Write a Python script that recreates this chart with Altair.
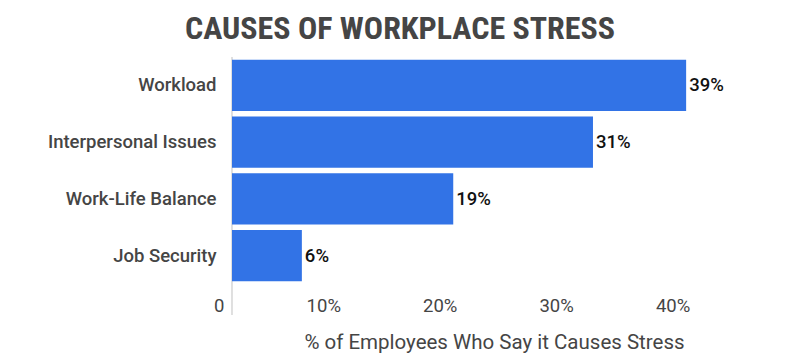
import altair as alt
import pandas as pd

categories = ["Workload", "Interpersonal Issues", "Work-Life Balance", "Job Security"]
values = [39, 31, 19, 6]
labels = ["39%", "31%", "19%", "6%"]
tick_values = [0, 10, 20, 30, 40]

df = pd.DataFrame({"cause": categories, "pct": values, "label": labels})

x_scale = alt.Scale(domain=[0, 45], nice=False)
y_enc = alt.Y("cause:N", sort=categories, scale=alt.Scale(paddingInner=0.1, paddingOuter=0.05),
              axis=alt.Axis(title=None, domain=False, ticks=False, labelPadding=16,
                            labelFontSize=18.5, labelColor="#454545", labelFont="Roboto",
                            labelFontWeight=500, labelLimit=300))

bars = alt.Chart(df).mark_bar(color="#3273E6").encode(
    x=alt.X("pct:Q", scale=x_scale,
            axis=alt.Axis(values=tick_values, grid=False, domain=False, ticks=False,
                          labelExpr="datum.value == 0 ? '0' : datum.value + '%'",
                          labelAlign="right", labelOffset=-8, labelPadding=12,
                          labelFontSize=18.5, labelColor="#454545", labelFont="Roboto",
                          title="% of Employees Who Say it Causes Stress",
                          titleFontSize=20.5, titleFontWeight="normal", titleColor="#454545",
                          titleFont="Roboto", titlePadding=18)),
    y=y_enc,
)

text = alt.Chart(df).mark_text(align="left", dx=3, fontSize=18.5, font="Roboto",
                               fontWeight=500, color="#111111").encode(
    x="pct:Q", y=alt.Y("cause:N", sort=categories), text="label:N")

rule = alt.Chart(df).mark_rule(color="#dddddd", strokeWidth=1).encode(
    x=alt.value(0), y=alt.value(0), y2=alt.value(258))

chart = alt.layer(rule, bars, text).properties(
    width=524, height=227,
    background="white",
    autosize=alt.AutoSizeParams(type="none"),
    padding={"left": 232, "top": 57, "right": 44, "bottom": 71},
    title=alt.TitleParams("CAUSES OF WORKPLACE STRESS", anchor="middle", dx=-94,
                          fontSize=32, font="Roboto Condensed, Roboto", fontWeight="bold",
                          color="#454545", offset=11),
).configure_view(stroke="transparent", strokeWidth=0)

chart.save("out.html", embed_options={"renderer": "svg", "actions": False})
